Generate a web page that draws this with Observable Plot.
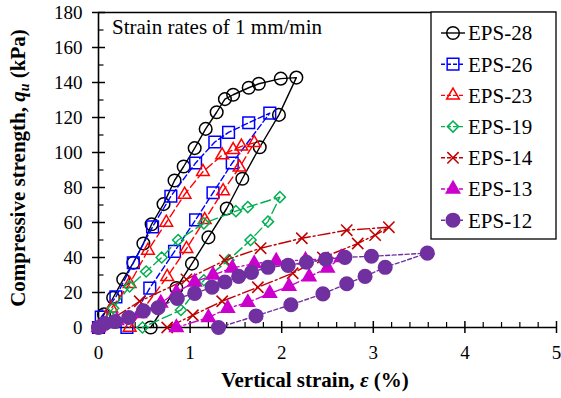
<!DOCTYPE html>
<html><head><meta charset="utf-8">
<script src="https://cdn.jsdelivr.net/npm/d3@7"></script>
<script src="https://cdn.jsdelivr.net/npm/@observablehq/plot@0.6"></script>
<style>html,body{margin:0;padding:0;background:#fff} svg{display:block}</style>
</head><body><div id="chart"></div>
<script>
// ---- data ----
const seriesNames = ["EPS-28","EPS-26","EPS-23","EPS-19","EPS-14","EPS-13","EPS-12"];
const eps28X = [0,0.06,0.16,0.27,0.38,0.49,0.58,0.71,0.83,0.93,1.05,1.17,1.29,1.38,1.47,1.64,1.75,1.99,2.16,1.97,1.76,1.57,1.40,1.20,1.02,0.85,0.57];
const eps28Y = [0,7.5,17,27.5,37,48,59,70.5,84,92,102.5,113.5,123,130.5,133,137,139.3,142.2,142.8,121.5,103,85,68,51.5,36.5,22.6,0];
const eps26X = [0,0.03,0.19,0.38,0.59,0.79,1.06,1.27,1.42,1.64,1.87,1.46,1.25,1.06,0.83,0.56,0.31];
const eps26Y = [0,6,17.5,37,57.5,75,94,106,111.5,117,122.5,94,77,61.5,43.5,22.5,0];
const eps23X = [0,0.14,0.34,0.54,0.74,0.94,1.14,1.35,1.47,1.56,1.70,1.54,1.36,1.16,0.96,0.75,0.34];
const eps23Y = [0,11,25,44,60,76,89,98.5,101.5,103.5,105.5,91.5,78,61.5,45,29,0];
const eps19X = [0,0.16,0.34,0.52,0.69,0.87,1.15,1.50,1.63,1.98,1.85,1.66,1.42,1.15,0.90,0.48];
const eps19Y = [0,11,23.5,32,40,50,59.5,66.5,68.8,74.5,60.5,50,38.5,27,10,0];
const eps14X = [0,0.45,0.96,1.38,1.77,2.22,2.71,3.17,3.02,2.83,2.45,2.12,1.74,1.35,1.03,0.75];
const eps14Y = [0,15,27.5,38.4,45.3,51,55.6,57.3,52.8,48,40,31,23,15,7,0];
const eps13X = [0,0.2,0.45,0.68,0.85,1.05,1.25,1.46,1.70,1.94,2.26,2.65,2.50,2.30,2.08,1.87,1.63,1.41,1.20,0.85];
const eps13Y = [0,4,8,14,20,26,30,34,36.5,38,38.5,40,34,29,23.5,19.5,14.3,11,5.7,0];
const eps12X = [0,0.07,0.18,0.33,0.49,0.65,0.86,1.05,1.24,1.38,1.53,1.67,1.85,2.07,2.27,2.48,2.69,2.98,3.59,3.13,2.91,2.71,2.45,2.10,1.72,1.31];
const eps12Y = [0,2.3,3.4,5.7,9.5,11.3,16.6,19.5,23,26,29.2,31.5,34.4,35.5,37.3,39,40.1,40.7,42.5,34.4,29.2,25,19.2,13,6.6,0];

const xMajor = [0,1,2,3,4,5];
const xMinor = [0.2,0.4,0.6,0.8,1.2,1.4,1.6,1.8,2.2,2.4,2.6,2.8,3.2,3.4,3.6,3.8,4.2,4.4,4.6,4.8];
const yMajor = [0,20,40,60,80,100,120,140,160,180];
const yMinor = [10,30,50,70,90,110,130,150,170];

const titleText = "Strain rates of 1 mm/min";

// ---- styles ----
const colors = ["#000000","#0000ff","#ff0000","#00b050","#c00000","#cc00cc","#7030a0"];
const dashes = [null,"6,3","8,4","10,4","12,3,2,3","10,3,2,3","4,2.5"];
const symbols = ["circle","square","triangle","diamond2","times","triangle","circle"];
const fills = ["none","none","none","none","none","#cc00cc","#7030a0"];
const radii = [6.3,6.6,4.7,5.0,5.2,5.0,6.8];
const xs = [eps28X,eps26X,eps23X,eps19X,eps14X,eps13X,eps12X];
const ys = [eps28Y,eps26Y,eps23Y,eps19Y,eps14Y,eps13Y,eps12Y];

const W = 561, H = 398, mL = 98, mR = 5, mT = 12, mB = 71;
const pxX = 5 / (W - mL - mR);     // data units per pixel, x
const pxY = 180 / (H - mT - mB);   // data units per pixel, y
const serif = "'Liberation Serif','Times New Roman',serif";

const marks = [];
// frame lines
marks.push(Plot.ruleY([0], {strokeWidth: 1.6}));
marks.push(Plot.ruleY([180], {strokeWidth: 1.6}));
marks.push(Plot.ruleX([0], {strokeWidth: 1.6}));
// ticks
marks.push(Plot.ruleX(xMajor, {y1: -6 * pxY, y2: 6 * pxY, strokeWidth: 1.5}));
marks.push(Plot.ruleX(xMinor, {y1: 0, y2: 5 * pxY, strokeWidth: 1.2}));
marks.push(Plot.ruleY(yMajor, {x1: -6 * pxX, x2: 7 * pxX, strokeWidth: 1.5}));
marks.push(Plot.ruleY(yMinor, {x1: 0, x2: 5.5 * pxX, strokeWidth: 1.2}));
// tick labels
marks.push(Plot.axisX({ticks: xMajor, tickSize: 0, tickPadding: 18, label: null, fontSize: 19, tickFormat: d => String(d)}));
marks.push(Plot.axisY({ticks: yMajor, tickSize: 0, tickPadding: 16, label: null, fontSize: 19, tickFormat: d => String(d)}));

// series
seriesNames.forEach((name, i) => {
  const data = xs[i].map((x, k) => ({x, y: ys[i][k], name}));
  marks.push(Plot.line(data, {x: "x", y: "y", stroke: colors[i], strokeWidth: 1.4, strokeDasharray: dashes[i]}));
  marks.push(Plot.dot(data, {x: "x", y: "y", symbol: symbols[i], r: radii[i], stroke: colors[i], fill: fills[i], strokeWidth: 1.5}));
});

const chart = Plot.plot({
  width: W, height: H,
  marginLeft: mL, marginRight: mR, marginTop: mT, marginBottom: mB,
  x: {domain: [0, 5]},
  y: {domain: [0, 180]},
  style: {fontFamily: serif, background: "#fff", color: "#000", overflow: "visible"},
  marks
});
document.getElementById("chart").appendChild(chart);

const svg = d3.select(chart);

// title inside plot
svg.append("text").attr("x", 112).attr("y", 34).attr("text-anchor", "start")
  .attr("font-family", serif).attr("font-size", 21).attr("fill", "#000")
  .text(titleText);

// axis titles
const xl = svg.append("text").attr("x", 315).attr("y", 387)
  .attr("text-anchor", "middle").attr("font-family", serif).attr("font-size", 21)
  .attr("font-weight", "bold").attr("fill", "#000");
xl.append("tspan").text("Vertical strain, ");
xl.append("tspan").attr("font-style", "italic").text("ε");
xl.append("tspan").text(" (%)");

const yl = svg.append("text").attr("transform", "translate(25,168) rotate(-90)")
  .attr("text-anchor", "middle").attr("font-family", serif).attr("font-size", 21)
  .attr("font-weight", "bold").attr("fill", "#000");
yl.append("tspan").text("Compressive strength, ");
yl.append("tspan").attr("font-style", "italic").text("q");
yl.append("tspan").attr("font-style", "italic").attr("font-size", 14).attr("dy", 4).text("u");
yl.append("tspan").attr("dy", -4).text(" (kPa)");

// legend
const lg = svg.append("g");
lg.append("rect").attr("x", 431).attr("y", 12).attr("width", 125).attr("height", 227)
  .attr("fill", "#fff").attr("stroke", "#000").attr("stroke-width", 1.3);
const symMap = {circle: d3.symbolCircle, square: d3.symbolSquare, triangle: d3.symbolTriangle, diamond2: d3.symbolDiamond2, times: d3.symbolTimes};
seriesNames.forEach((name, i) => {
  const cy = 33 + i * 31.2;
  lg.append("line").attr("x1", 441).attr("x2", 465).attr("y1", cy).attr("y2", cy)
    .attr("stroke", colors[i]).attr("stroke-width", 1.4)
    .attr("stroke-dasharray", dashes[i] ? "4,2" : null);
  lg.append("path").attr("transform", `translate(453,${cy})`)
    .attr("d", d3.symbol(symMap[symbols[i]], Math.PI * radii[i] * radii[i])())
    .attr("stroke", colors[i]).attr("fill", fills[i]).attr("stroke-width", 1.5);
  lg.append("text").attr("x", 468).attr("y", cy).attr("dy", "0.35em").attr("text-anchor", "start")
    .attr("font-family", serif).attr("font-size", 21).attr("fill", "#000").text(name);
});
</script>
</body></html>
